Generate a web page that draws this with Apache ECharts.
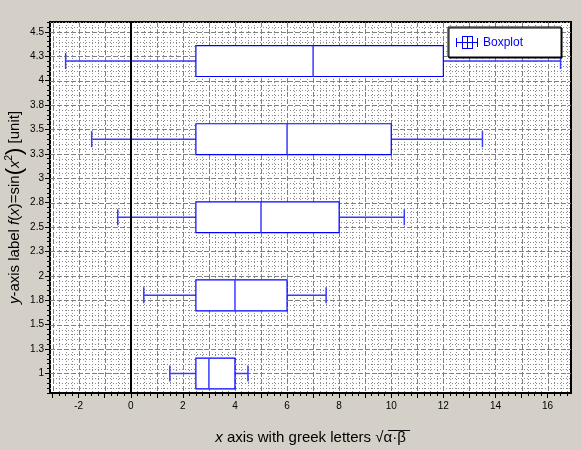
<!DOCTYPE html>
<html><head><meta charset="utf-8">
<script src="https://cdn.jsdelivr.net/npm/echarts@6/dist/echarts.min.js"></script>
<style>html,body{margin:0;padding:0;background:#d4d0c8}#c{width:582px;height:450px}</style>
</head><body><div id="c"></div>
<script>
// ---- data ----
const positions   = [1, 1.8, 2.6, 3.4, 4.2];
const whiskerLow  = [1.5, 0.5, -0.5, -1.5, -2.5];
const q1          = [2.5, 2.5, 2.5, 2.5, 2.5];
const medians     = [3, 4, 5, 6, 7];
const q3          = [4, 6, 8, 10, 12];
const whiskerHigh = [4.5, 7.5, 10.5, 13.5, 16.5];

const xLabelValues = [-2, 0, 2, 4, 6, 8, 10, 12, 14, 16];
const xTickLabels  = ['-2', '0', '2', '4', '6', '8', '10', '12', '14', '16'];
const xMajorTicks  = [-3, -2, -1, 0, 1, 2, 3, 4, 5, 6, 7, 8, 9, 10, 11, 12, 13, 14, 15, 16];
const yTicks       = [1, 1.25, 1.5, 1.75, 2, 2.25, 2.5, 2.75, 3, 3.25, 3.5, 3.75, 4, 4.25, 4.5];
const yTickLabels  = ['1', '1.3', '1.5', '1.8', '2', '2.3', '2.5', '2.8', '3', '3.3', '3.5', '3.8', '4', '4.3', '4.5'];

const X_MIN = -3.1, X_MAX = 16.9, Y_MIN = 0.8, Y_MAX = 4.6;
const X_MINOR = 0.25, Y_MINOR = 0.05;

const xMinorTicks = [];
for (let k = Math.ceil(X_MIN / X_MINOR); k * X_MINOR <= X_MAX + 1e-9; k++) xMinorTicks.push(+(k * X_MINOR).toFixed(4));
const yMinorTicks = [];
for (let k = Math.ceil(Y_MIN / Y_MINOR - 1e-9); k * Y_MINOR <= Y_MAX + 1e-9; k++) yMinorTicks.push(+(k * Y_MINOR).toFixed(4));

const boxData = positions.map((p, i) => [p, whiskerLow[i], q1[i], medians[i], q3[i], whiskerHigh[i]]);

const FONT = "'Liberation Sans', Arial, sans-serif";
const BLUE = '#0000ff';

function renderGrid(params, api) {
  const cs = params.coordSys;
  const left = cs.x, right = cs.x + cs.width, top = cs.y, bottom = cs.y + cs.height;
  const snap = v => Math.round(v) + 0.5;
  const children = [];
  const isMajorX = v => xMajorTicks.some(t => Math.abs(t - v) < 1e-6);
  const isMajorY = v => yTicks.some(t => Math.abs(t - v) < 1e-6);
  xMinorTicks.forEach(v => {
    if (isMajorX(v)) return;
    const px = snap(api.coord([v, Y_MIN])[0]);
    children.push({type: 'line', shape: {x1: px, y1: top, x2: px, y2: bottom},
      style: {stroke: '#8a8a8a', lineWidth: 1, lineDash: [1, 2]}});
  });
  yMinorTicks.forEach(v => {
    if (isMajorY(v)) return;
    const py = snap(api.coord([X_MIN, v])[1]);
    children.push({type: 'line', shape: {x1: left, y1: py, x2: right, y2: py},
      style: {stroke: '#8a8a8a', lineWidth: 1, lineDash: [1, 2]}});
  });
  xMajorTicks.forEach(v => {
    const px = snap(api.coord([v, Y_MIN])[0]);
    children.push({type: 'line', shape: {x1: px, y1: top, x2: px, y2: bottom},
      style: {stroke: '#808080', lineWidth: 1, lineDash: [5, 2]}});
  });
  yTicks.forEach(v => {
    const py = snap(api.coord([X_MIN, v])[1]);
    children.push({type: 'line', shape: {x1: left, y1: py, x2: right, y2: py},
      style: {stroke: '#808080', lineWidth: 1, lineDash: [5, 2]}});
  });
  return {type: 'group', children};
}

function renderBox(params, api) {
  const y = api.value(0);
  const lo = api.value(1), a = api.value(2), m = api.value(3), b = api.value(4), hi = api.value(5);
  const half = 0.158, capHalf = 0.082;
  const c = (xx, yy) => api.coord([xx, yy]);
  const yc = c(a, y)[1];
  const yt = c(a, y + half)[1], yb = c(a, y - half)[1];
  const yct = c(a, y + capHalf)[1], ycb = c(a, y - capHalf)[1];
  const xlo = c(lo, y)[0], xa = c(a, y)[0], xm = c(m, y)[0], xb = c(b, y)[0], xhi = c(hi, y)[0];
  const st = {stroke: '#3a3aff', lineWidth: 1.5, fill: null};
  return {type: 'group', children: [
    {type: 'line', shape: {x1: xlo, y1: yc, x2: xa, y2: yc}, style: st},
    {type: 'line', shape: {x1: xb, y1: yc, x2: xhi, y2: yc}, style: st},
    {type: 'line', shape: {x1: xlo, y1: yct, x2: xlo, y2: ycb}, style: st},
    {type: 'line', shape: {x1: xhi, y1: yct, x2: xhi, y2: ycb}, style: st},
    {type: 'rect', shape: {x: xa, y: yt, width: xb - xa, height: yb - yt}, style: {stroke: BLUE, lineWidth: 1.2, fill: '#fff'}},
    {type: 'line', shape: {x1: xm, y1: yt, x2: xm, y2: yb}, style: st}
  ]};
}

const legendIcon = 'path://M0,2h1v9h-1Z M21,2h1v9h-1Z M0,6h22v1h-22Z M6,0h11v1h-11Z M6,12h11v1h-11Z M6,0h1v13h-1Z M16,0h1v13h-1Z M11,0h1v13h-1Z';

const chart = echarts.init(document.getElementById('c'), null, {renderer: 'canvas'});
chart.setOption({
  backgroundColor: '#d4d0c8',
  animation: false,
  grid: {left: 50, top: 22, right: 11, bottom: 57, containLabel: false, outerBoundsMode: 'none',
    show: true, backgroundColor: '#fff', borderColor: '#000', borderWidth: 2},
  legend: {
    data: [{name: 'Boxplot', icon: legendIcon}],
    left: 448, top: 27, orient: 'vertical',
    padding: [9, 38, 8, 8], itemWidth: 22, itemHeight: 13, itemGap: 0,
    backgroundColor: '#fff', borderColor: '#000', borderWidth: 1,
    shadowColor: '#000', shadowOffsetX: 1, shadowOffsetY: 1, shadowBlur: 0,
    selectedMode: false,
    itemStyle: {color: BLUE, borderWidth: 0},
    textStyle: {color: BLUE, fontSize: 12, fontFamily: FONT}
  },
  xAxis: [{
    type: 'value', min: X_MIN, max: X_MAX, position: 'bottom',
    axisLine: {show: false, onZero: false},
    axisTick: {show: true, length: 5, customValues: xMajorTicks, lineStyle: {color: '#000'}},
    axisLabel: {customValues: xLabelValues, formatter: v => xTickLabels[xLabelValues.indexOf(v)] ?? '',
      fontSize: 10, color: '#000', fontFamily: FONT, margin: 8},
    splitLine: {show: false},
    name: '{it|x} axis with greek letters √α̅·̅β̅',
    nameLocation: 'middle', nameGap: 37, nameMoveOverlap: false,
    nameTextStyle: {fontSize: 15, color: '#000', fontFamily: FONT,
      rich: {it: {fontStyle: 'italic', fontSize: 15, fontFamily: FONT, color: '#000'}}}
  }, {
    type: 'value', min: X_MIN, max: X_MAX, position: 'bottom',
    axisLine: {show: false, onZero: false},
    axisTick: {show: true, length: 3, customValues: xMinorTicks, lineStyle: {color: '#000'}},
    axisLabel: {show: false}, splitLine: {show: false}
  }],
  yAxis: [{
    type: 'value', min: Y_MIN, max: Y_MAX, position: 'left',
    axisLine: {show: false, onZero: false},
    axisTick: {show: true, length: 5, customValues: yTicks, lineStyle: {color: '#000'}},
    axisLabel: {customValues: yTicks, formatter: v => yTickLabels[yTicks.indexOf(v)] ?? '',
      fontSize: 10, color: '#000', fontFamily: FONT, margin: 6},
    splitLine: {show: false},
    name: '{it|y}-axis label {it|f}({it|x})=sin{big|(}{it|x}{sup|2}{big|)} [unit]',
    nameLocation: 'middle', nameGap: 24, nameRotate: 90, nameMoveOverlap: false,
    nameTextStyle: {fontSize: 15, color: '#000', fontFamily: FONT,
      rich: {
        it: {fontStyle: 'italic', fontSize: 15, fontFamily: FONT, color: '#000'},
        big: {fontSize: 22, fontFamily: FONT, color: '#000'},
        sup: {fontSize: 10, fontFamily: FONT, color: '#000', verticalAlign: 'top'}
      }}
  }, {
    type: 'value', min: Y_MIN, max: Y_MAX, position: 'left',
    axisLine: {show: false, onZero: false},
    axisTick: {show: true, length: 3, customValues: yMinorTicks, lineStyle: {color: '#000'}},
    axisLabel: {show: false}, splitLine: {show: false}
  }],
  series: [{
    name: 'grid', type: 'custom', silent: true, z: 1,
    xAxisIndex: 0, yAxisIndex: 0,
    data: [[0, 1]], renderItem: renderGrid, clip: true
  }, {
    name: 'Boxplot', type: 'custom', z: 2,
    xAxisIndex: 0, yAxisIndex: 0,
    itemStyle: {color: BLUE},
    encode: {y: 0, x: [1, 2, 3, 4, 5]},
    data: boxData, renderItem: renderBox,
    markLine: {silent: true, symbol: 'none', label: {show: false},
      lineStyle: {color: '#000', width: 2, type: 'solid'}, data: [{xAxis: 0}]}
  }]
});
</script></body></html>
